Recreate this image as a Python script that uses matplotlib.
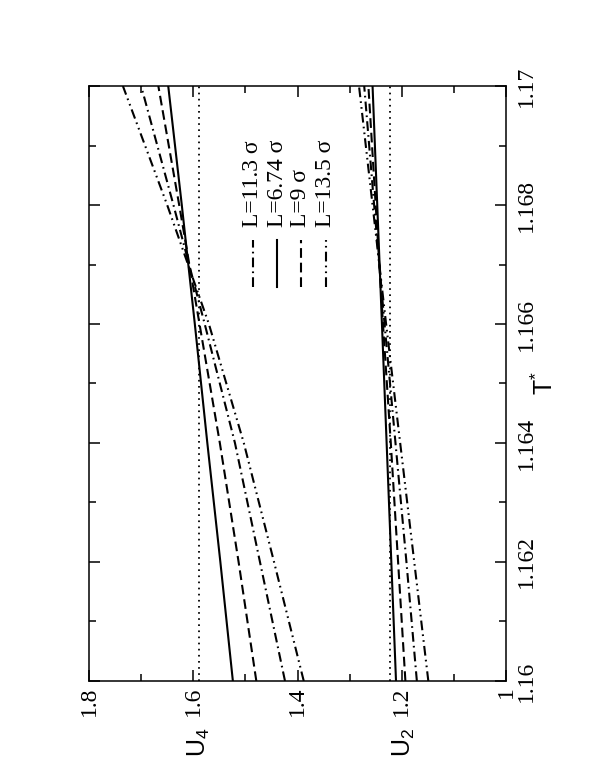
import numpy as np
import matplotlib.pyplot as plt
from matplotlib.ticker import MultipleLocator, FuncFormatter

plt.rcParams['font.family'] = ['Liberation Serif', 'DejaVu Serif']
plt.rcParams['mathtext.fontset'] = 'custom'
plt.rcParams['mathtext.rm'] = 'Liberation Sans'
plt.rcParams['lines.scale_dashes'] = False

T = [1.160, 1.162, 1.164, 1.166, 1.168, 1.170]

# Binder cumulant U4 for each box size
u4_L674 = [1.524, 1.548, 1.573, 1.597, 1.622, 1.648]
u4_L9 = [1.479, 1.513, 1.549, 1.588, 1.627, 1.667]
u4_L113 = [1.424, 1.472, 1.520, 1.578, 1.638, 1.700]
u4_L135 = [1.388, 1.445, 1.503, 1.570, 1.650, 1.735]

# cumulant U2 for each box size
u2_L674 = [1.211, 1.220, 1.229, 1.238, 1.247, 1.256]
u2_L9 = [1.193, 1.207, 1.221, 1.236, 1.250, 1.264]
u2_L113 = [1.171, 1.191, 1.212, 1.233, 1.253, 1.272]
u2_L135 = [1.149, 1.176, 1.203, 1.230, 1.256, 1.282]

# reference (dotted) values
u_ref = [1.589, 1.223]

labels = ['L=11.3 σ', 'L=6.74 σ', 'L=9 σ', 'L=13.5 σ']

dash_dot = (0, (7, 3, 1.2, 3))
dash_dot_dot = (0, (7, 3, 1.2, 3, 1.2, 3))
dashed = (0, (7, 3.5))
styles = [dash_dot, '-', dashed, dash_dot_dot]

fig = plt.figure(figsize=(5.95, 7.7), dpi=100)
ax = fig.add_axes([0.1496, 0.1156, 0.7008, 0.7727])

series = [(u4_L113, u2_L113), (u4_L674, u2_L674), (u4_L9, u2_L9), (u4_L135, u2_L135)]
for (u4, u2), ls in zip(series, styles):
    ax.plot(u4, T, color='black', lw=1.5, linestyle=ls)
    ax.plot(u2, T, color='black', lw=1.5, linestyle=ls)

for u in u_ref:
    ax.axvline(u, color='black', lw=1.3, linestyle=(0, (1.2, 3.2)))

ax.set_xlim(1.8, 1.0)
ax.set_ylim(1.16, 1.17)
ax.xaxis.set_major_locator(MultipleLocator(0.2))
ax.xaxis.set_minor_locator(MultipleLocator(0.1))
ax.yaxis.set_major_locator(MultipleLocator(0.002))
ax.yaxis.set_minor_locator(MultipleLocator(0.001))
fmt = FuncFormatter(lambda v, _: f'{round(v, 4):g}')
ax.xaxis.set_major_formatter(fmt)
ax.yaxis.set_major_formatter(fmt)

ax.tick_params(which='both', direction='in', top=True, bottom=True, left=True, right=True,
               labelleft=False, labelright=True, labelsize=17, width=1.1)
ax.tick_params(which='major', length=8)
ax.tick_params(which='minor', length=5)
ax.tick_params(axis='x', labelrotation=90, pad=4)
ax.tick_params(axis='y', labelrotation=90, pad=7)
for lab in ax.get_yticklabels():
    lab.set_va('center')
for sp in ax.spines.values():
    sp.set_linewidth(1.1)

# axis labels (sans serif, rotated with the plot)
ax.text(1.59, -0.103, r'U$_\mathregular{4}$', transform=ax.get_xaxis_transform(),
        rotation=90, ha='center', va='center', fontsize=18, family='Liberation Sans')
ax.text(1.195, -0.103, r'U$_\mathregular{2}$', transform=ax.get_xaxis_transform(),
        rotation=90, ha='center', va='center', fontsize=18, family='Liberation Sans')
ax.text(1.094, 0.5, r'T$^\mathregular{*}$', transform=ax.transAxes,
        rotation=90, ha='center', va='center', fontsize=18, family='Liberation Sans')

# legend drawn by hand because it is rotated
leg_x = [0.393, 0.451, 0.508, 0.568]
for x, ls, lab in zip(leg_x, styles, labels):
    ax.plot([x, x], [0.662, 0.741], transform=ax.transAxes, color='black', lw=1.5, linestyle=ls)
    ax.text(x, 0.763, lab, transform=ax.transAxes, rotation=90, ha='center', va='bottom',
            fontsize=17)

fig.savefig('out.png', dpi=100)
